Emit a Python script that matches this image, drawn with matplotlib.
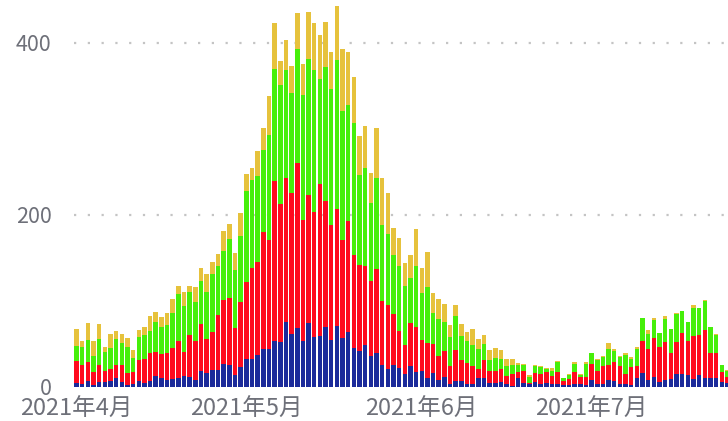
import numpy as np
import pandas as pd
import matplotlib
matplotlib.use("Agg")
import matplotlib.pyplot as plt

plt.rcParams['font.family'] = ['Noto Sans CJK SC', 'DejaVu Sans']

# daily values, 2021-04-01 .. 2021-07-25 (stack order: blue, red, green, yellow)
start_date = "2021-04-01"
blue = [5, 4, 7, 2, 6, 6, 7, 10, 6, 2, 4, 7, 5, 7, 13, 10, 8, 9, 10, 13,
        12, 8, 19, 16, 20, 20, 27, 25, 14, 23, 32, 33, 37, 44, 44, 53, 52, 76, 62, 69,
        54, 74, 58, 59, 70, 55, 71, 57, 64, 45, 42, 49, 36, 40, 25, 21, 25, 22, 15, 24,
        18, 19, 11, 16, 8, 12, 4, 7, 7, 4, 4, 10, 11, 5, 5, 6, 4, 1, 10, 5,
        4, 6, 4, 5, 4, 4, 2, 2, 3, 3, 2, 8, 3, 4, 8, 7, 3, 3, 2, 10,
        16, 8, 12, 6, 8, 9, 15, 15, 14, 9, 14, 10, 10, 10, 6, 5]
red = [25, 22, 22, 15, 20, 13, 14, 16, 20, 14, 14, 24, 27, 33, 28, 28, 32, 36, 44, 28,
       49, 46, 54, 40, 44, 64, 74, 79, 55, 76, 90, 105, 108, 136, 127, 186, 161, 167, 164, 191,
       140, 149, 146, 177, 146, 133, 136, 114, 129, 109, 100, 92, 87, 97, 75, 74, 60, 43, 34, 50,
       52, 36, 40, 34, 28, 30, 20, 36, 24, 24, 20, 11, 20, 14, 14, 15, 9, 14, 7, 14,
       1, 10, 11, 12, 9, 13, 5, 7, 14, 9, 10, 19, 16, 20, 18, 22, 21, 12, 21, 14,
       38, 36, 45, 41, 44, 31, 37, 48, 40, 50, 47, 56, 30, 30, 12, 7]
green = [18, 21, 26, 19, 30, 22, 24, 30, 25, 31, 16, 27, 28, 25, 34, 32, 32, 41, 54, 53,
         49, 45, 50, 55, 67, 57, 57, 68, 67, 77, 106, 103, 100, 96, 122, 131, 138, 126, 116, 133,
         146, 158, 165, 122, 156, 158, 173, 150, 135, 153, 105, 114, 91, 106, 88, 83, 69, 76, 69, 53,
         71, 54, 65, 36, 43, 34, 34, 40, 28, 25, 25, 23, 19, 12, 15, 12, 11, 10, 8, 6,
         7, 8, 8, 4, 6, 12, 3, 5, 10, 2, 15, 12, 12, 11, 18, 13, 11, 22, 10, 20,
         26, 18, 21, 16, 27, 27, 33, 25, 22, 33, 31, 34, 30, 21, 7, 7]
yellow = [19, 7, 19, 18, 17, 6, 17, 9, 11, 10, 9, 8, 10, 17, 12, 11, 14, 16, 10, 16,
          7, 17, 15, 20, 14, 14, 23, 18, 20, 26, 20, 14, 29, 25, 45, 53, 28, 35, 31, 42,
          35, 55, 54, 51, 52, 43, 63, 72, 62, 54, 45, 48, 35, 58, 55, 47, 31, 32, 26, 26,
          43, 29, 41, 23, 23, 20, 14, 12, 14, 11, 19, 12, 11, 12, 11, 10, 9, 8, 3, 2,
          2, 1, 1, 1, 3, 1, 1, 1, 2, 1, 2, 1, 2, 1, 7, 2, 1, 2, 2, 2,
          0, 4, 2, 0, 4, 1, 1, 0, 0, 3, 0, 1, 0, 1, 1, 1]
month_ticks = ["2021-04-01", "2021-05-01", "2021-06-01", "2021-07-01"]
month_labels = ["2021年4月", "2021年5月", "2021年6月", "2021年7月"]

dates = pd.date_range(start_date, periods=len(blue), freq="D")
x = np.arange(len(dates))

fig = plt.figure(figsize=(7.28, 4.21), dpi=100)
ax = fig.add_axes([0.1012, 0.0808, 0.8988, 0.9192])

colors = ['#1b2a9a', '#ff0a1e', '#46ef0a', '#e6c23c']
bottom = np.zeros(len(x))
for vals, c in zip([blue, red, green, yellow], colors):
    vals = np.array(vals)
    ax.bar(x, vals, width=0.8, bottom=bottom, color=c, linewidth=0, zorder=2)
    bottom += vals

ax.set_ylim(0, 450)
ax.set_xlim(-0.5, 115.1)
ax.set_yticks([0, 200, 400])
for yv in [200, 400]:
    ax.axhline(yv, color='#c4c4c4', lw=1.6, linestyle=(0, (1, 5.2)), zorder=1)

tick_pos = [(pd.Timestamp(d) - dates[0]).days for d in month_ticks]
ax.set_xticks(tick_pos)
ax.set_xticklabels(month_labels)

ax.tick_params(axis='y', length=0, pad=16, labelsize=15.5, labelcolor='#6e7079')
ax.tick_params(axis='x', length=0, pad=7.5, labelsize=17, labelcolor='#6e7079')
for lbl in ax.get_yticklabels():
    lbl.set_verticalalignment('center_baseline')
for s in ax.spines.values():
    s.set_visible(False)

fig.savefig("out.png", dpi=100)
